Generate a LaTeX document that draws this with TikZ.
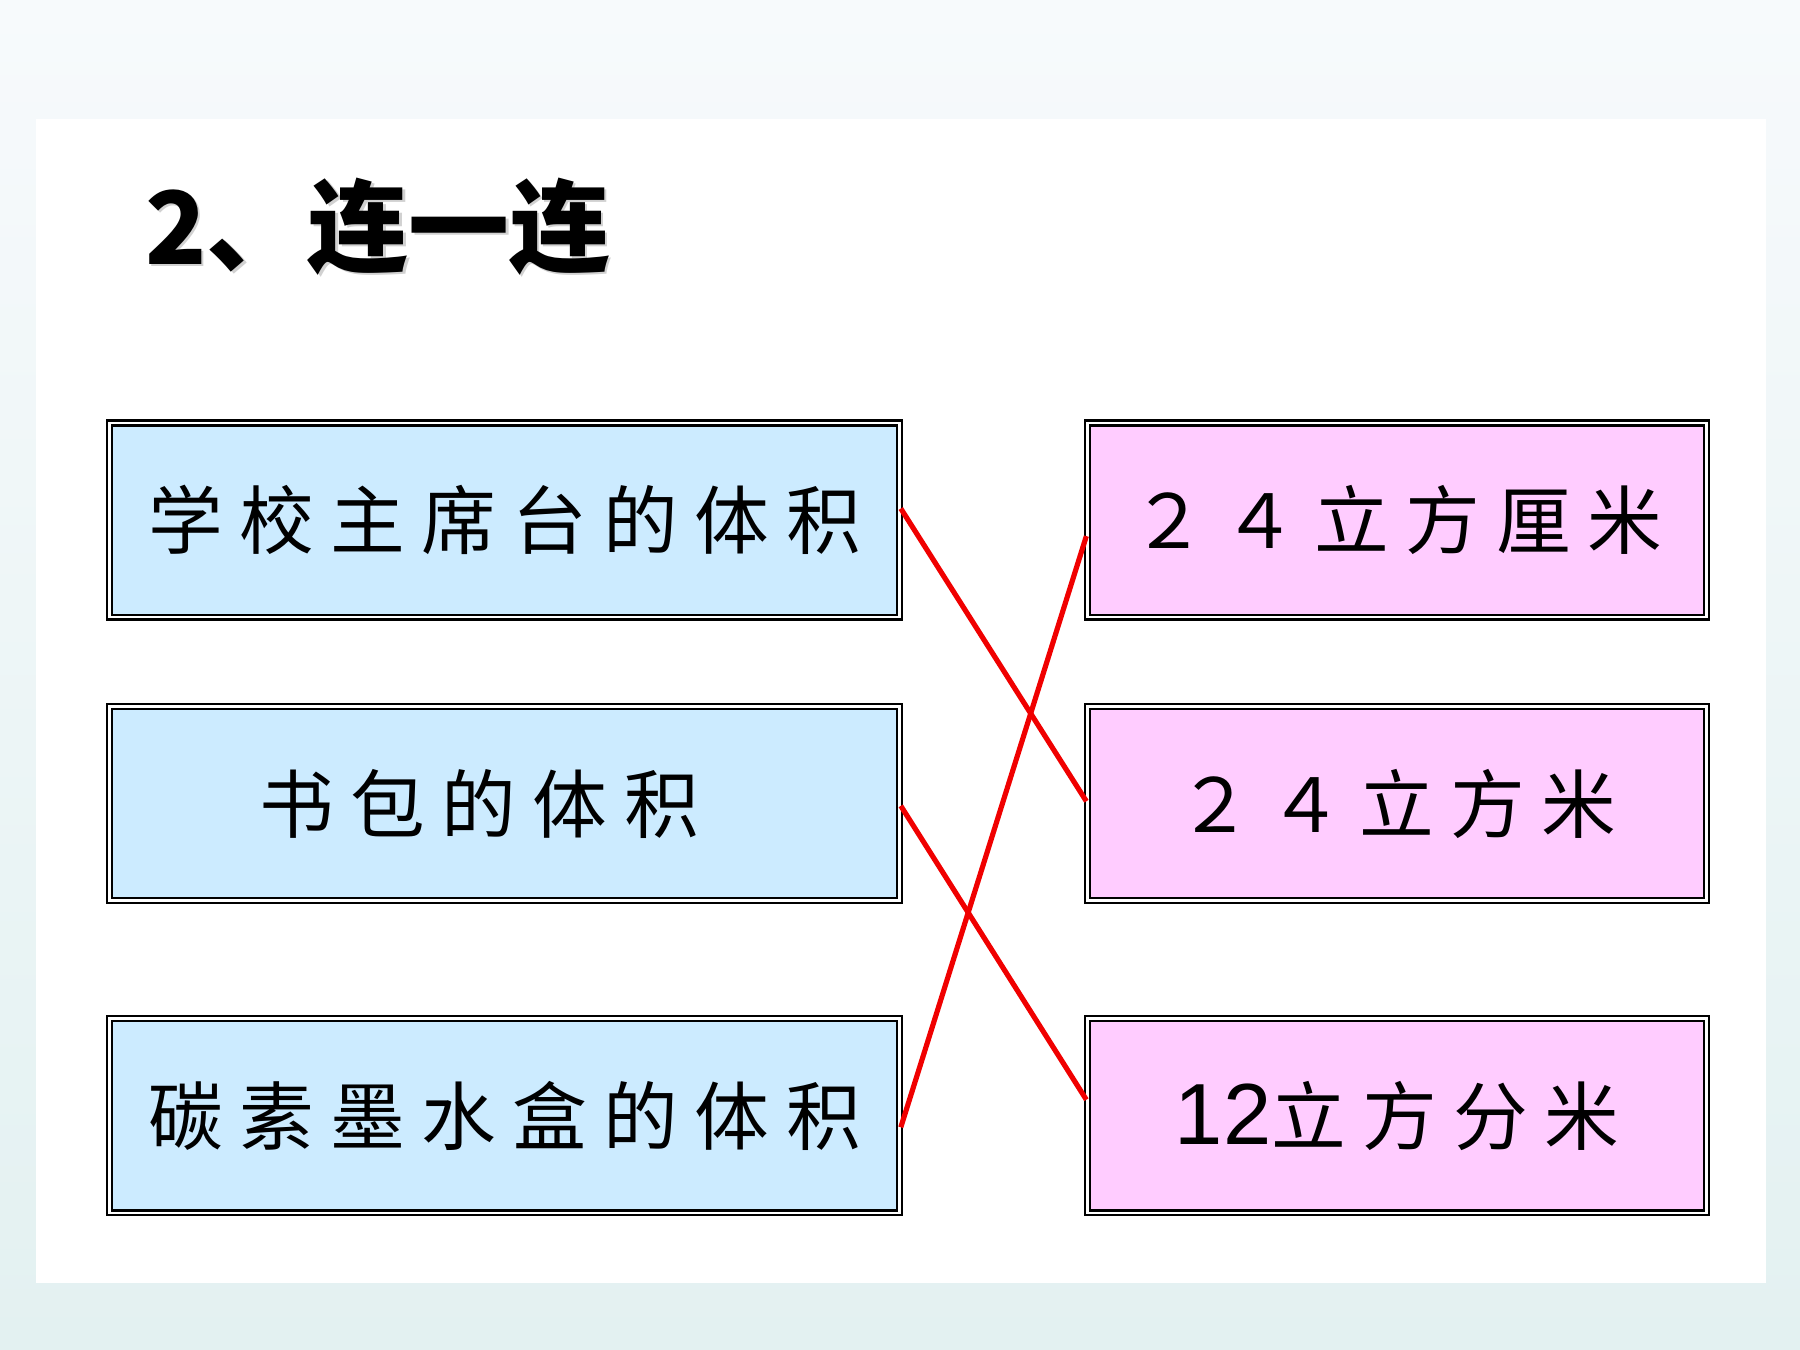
\documentclass[tikz,border=0pt]{standalone}
\usepackage{fontspec}
\newfontfamily\cjk[LetterSpace=22]{Noto Sans CJK SC}
\newfontfamily\cjktitle{Noto Sans CJK SC}
\newfontfamily\arialfont{Liberation Sans}
\definecolor{bgtop}{HTML}{F7FAFC}
\definecolor{bgbot}{HTML}{E3F1F1}
\definecolor{boxblue}{HTML}{CCEBFF}
\definecolor{boxpink}{HTML}{FFCCFF}
\definecolor{linkred}{HTML}{F00000}
\begin{document}
\begin{tikzpicture}[x=0.01cm,y=-0.01cm,
  box/.style={draw=black, line width=0.02cm, double=white, double distance=0.022cm,
    inner sep=0pt, minimum height=1.69cm, text=black, font=\cjk\fontsize{18.5}{22}\selectfont},
  leftbox/.style={box, fill=boxblue, minimum width=6.88cm},
  rightbox/.style={box, fill=boxpink, minimum width=5.39cm},
  link/.style={draw=linkred, line width=0.045cm},
  titletext/.style={anchor=base west, inner sep=0pt, font=\cjktitle\bfseries\fontsize{25}{30}\selectfont}]
\useasboundingbox (0,0) rectangle (1568,1176);
\shade[top color=bgtop, bottom color=bgbot] (0,0) rectangle (1568,1176);
\fill[white] (31,104) rectangle (1538,1118);
% title
\node[titletext, text=black!18] (titleshadow) at (128,232) {2、连一连};
\node[titletext, text=black] (title) at (126,230) {2、连一连};
% left boxes
\node[leftbox] (L1) at (439.5,453) {学校主席台的体积};
\node[leftbox] (L2) at (439.5,700) {书包的体积\hspace*{0.44cm}};
\node[leftbox] (L3) at (439.5,972) {碳素墨水盒的体积};
% right boxes
\node[rightbox] (R1) at (1217,453) {２４立方厘米};
\node[rightbox] (R2) at (1217,700) {２４立方米};
\node[rightbox] (R3) at (1217,972) {{\arialfont\fontsize{21.5}{26}\selectfont 12}立方分米};
% connectors
\draw[link] ([yshift=0.1cm]L1.east) -- ([yshift=0.02cm]R2.west);
\draw[link] ([yshift=-0.14cm]R1.west) -- ([yshift=-0.1cm]L3.east);
\draw[link] ([yshift=-0.02cm]L2.east) -- ([yshift=0.14cm]R3.west);
\end{tikzpicture}
\end{document}
